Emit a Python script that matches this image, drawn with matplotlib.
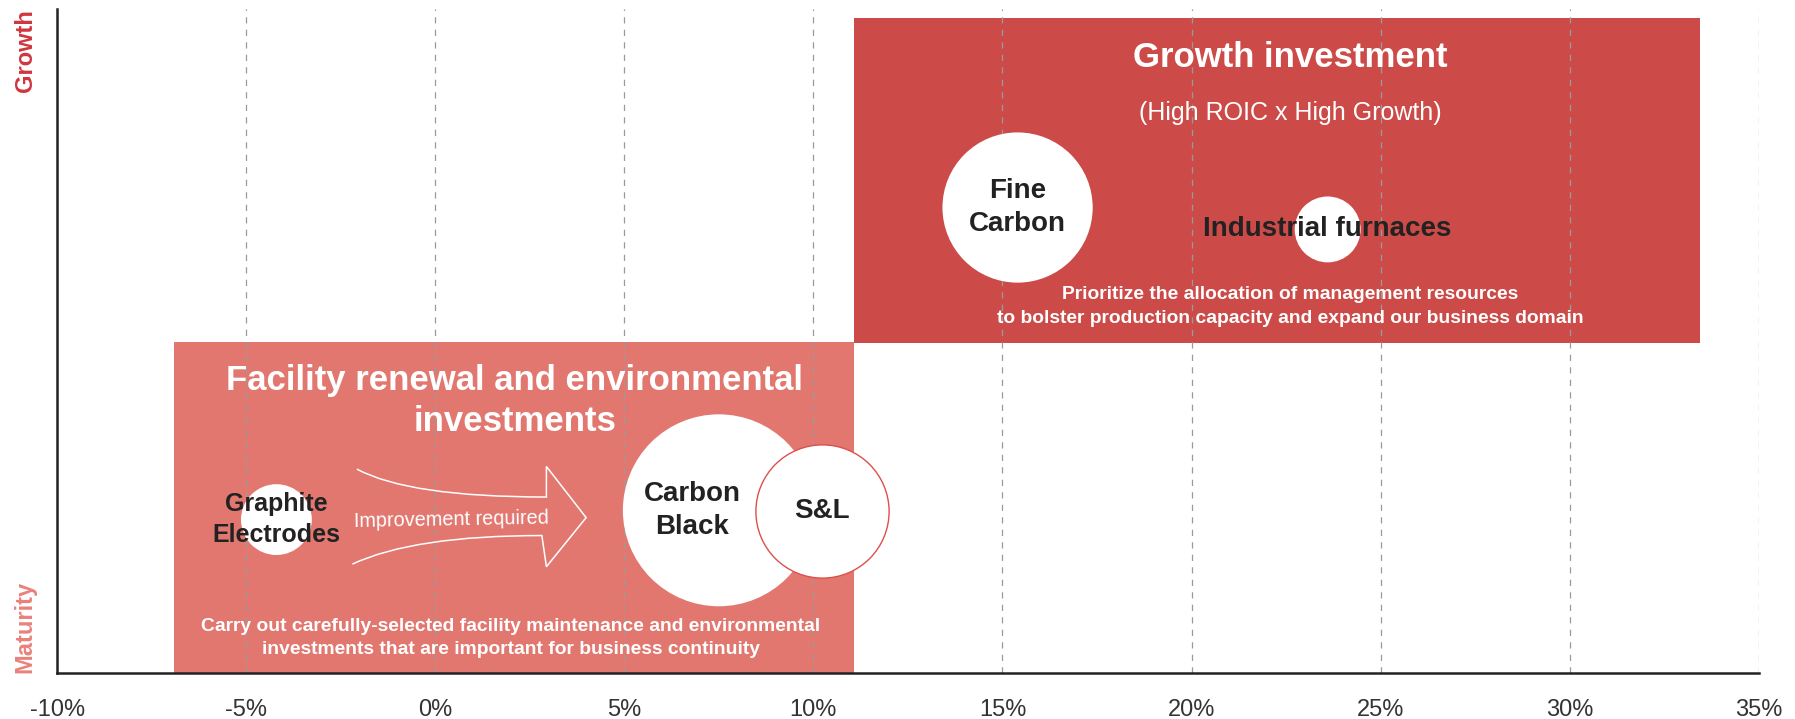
import matplotlib.pyplot as plt
from matplotlib.path import Path
from matplotlib.patches import PathPatch

plt.rcParams['font.family'] = ['Liberation Sans', 'DejaVu Sans']

# x ticks (ROIC, %)
x_ticks = [-10, -5, 0, 5, 10, 15, 20, 25, 30, 35]
x_tick_labels = ['-10%', '-5%', '0%', '5%', '10%', '15%', '20%', '25%', '30%', '35%']

# investment zones: ROIC range and growth range
zone_names = ['Facility renewal', 'Growth investment']
zone_x0 = [-6.9, 11.07]
zone_x1 = [11.08, 33.44]
zone_y0 = [0, 49.7]
zone_y1 = [49.8, 98.6]
zone_colors = ['#E27770', '#CC4B48']

# businesses
biz_names = ['Fine\nCarbon', 'Industrial furnaces', 'Carbon\nBlack', 'S&L', 'Graphite\nElectrodes']
biz_roic = [15.4, 23.6, 7.5, 10.23, -4.2]
biz_growth = [70.1, 66.8, 24.5, 24.4, 23.1]
biz_size = [11700, 2250, 19100, 9200, 2600]
biz_label_dx = [0, 0, -0.7, 0, 0]

fig = plt.figure(figsize=(17.95, 7.19), dpi=100)
ax = fig.add_axes([0.0318, 0.064, 0.948, 0.9235])
ax.set_xlim(-10, 35)
ax.set_ylim(0, 100)

# zones
for i in range(len(zone_names)):
    ax.bar(zone_x0[i], zone_y1[i] - zone_y0[i], width=zone_x1[i] - zone_x0[i],
           bottom=zone_y0[i], align='edge', color=zone_colors[i], zorder=1)

# dashed grid
for xt in x_ticks[1:]:
    ax.axvline(xt, color='#9a9a9a', lw=0.9, ls=(0, (5, 5)), zorder=2)

# bubbles
edge = ['none', 'none', 'none', '#DD4F4B', 'none']
for i in range(len(biz_names)):
    ax.scatter(biz_roic[i], biz_growth[i], s=biz_size[i], color='white',
               edgecolors=edge[i], linewidths=1.0, zorder=3 + i * 0.1)
    ax.text(biz_roic[i] + biz_label_dx[i], biz_growth[i], biz_names[i],
            ha='center', va='center', fontsize=20 if i < 4 else 18,
            fontweight='bold', color='#222222', zorder=5, linespacing=1.35)

# improvement arrow
verts = [(-2.07, 30.7), (-0.7, 26.5), (2.94, 26.5), (2.94, 31.1), (3.99, 23.4),
         (2.94, 16.0), (2.82, 20.7), (-0.575, 20.7), (-2.19, 16.4)]
codes = [Path.MOVETO, Path.CURVE3, Path.CURVE3, Path.LINETO, Path.LINETO,
         Path.LINETO, Path.LINETO, Path.CURVE3, Path.CURVE3]
ax.add_patch(PathPatch(Path(verts, codes), facecolor='none', edgecolor='white',
                       lw=1.1, zorder=4))
ax.text(0.42, 23.0, 'Improvement required', ha='center', va='center',
        fontsize=14.3, color='white', rotation=1, zorder=5)

# zone texts
ax.text(22.6, 92.7, 'Growth investment', ha='center', va='center',
        fontsize=25, fontweight='bold', color='white', zorder=5)
ax.text(22.6, 84.3, '(High ROIC x High Growth)', ha='center', va='center',
        fontsize=18, color='white', zorder=5)
ax.text(22.6, 55.2, 'Prioritize the allocation of management resources\n'
        'to bolster production capacity and expand our business domain',
        ha='center', va='center', fontsize=13.9, fontweight='bold',
        color='white', linespacing=1.6, zorder=5)
ax.text(2.1, 41.0, 'Facility renewal and environmental\ninvestments',
        ha='center', va='center', fontsize=25, fontweight='bold',
        color='white', linespacing=1.3, zorder=5)
ax.text(2.0, 5.3, 'Carry out carefully-selected facility maintenance and environmental\n'
        'investments that are important for business continuity',
        ha='center', va='center', fontsize=13.9, fontweight='bold',
        color='white', linespacing=1.5, zorder=5)

# y axis end labels
ax.text(-0.0188, 1.0, 'Growth', transform=ax.transAxes, rotation=90,
        ha='center', va='top', fontsize=17, fontweight='bold', color='#D1353D')
ax.text(-0.0188, 0.0, 'Maturity', transform=ax.transAxes, rotation=90,
        ha='center', va='bottom', fontsize=17, fontweight='bold', color='#EA817B')

ax.set_xticks(x_ticks)
ax.set_xticklabels(x_tick_labels)
ax.set_yticks([])
ax.tick_params(axis='x', length=0, pad=19, labelsize=17, labelcolor='#333333')
for s in ['top', 'right']:
    ax.spines[s].set_visible(False)
for s in ['left', 'bottom']:
    ax.spines[s].set_linewidth(1.8)
    ax.spines[s].set_color('#222222')
    ax.spines[s].set_zorder(6)

fig.savefig('out.png', dpi=100)
